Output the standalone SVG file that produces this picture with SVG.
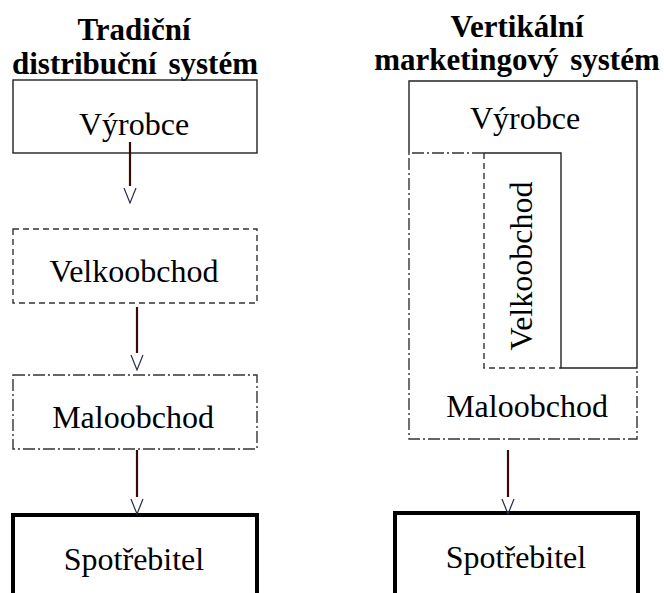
<svg xmlns="http://www.w3.org/2000/svg" width="664" height="593" viewBox="0 0 664 593">
<style>
.t{font-family:'Liberation Serif','DejaVu Serif',serif;font-size:32px;fill:#000;text-anchor:middle}
.h{font-family:'Liberation Serif','DejaVu Serif',serif;font-size:31px;font-weight:bold;fill:#000;text-anchor:middle}
.solid{fill:none;stroke:#222;stroke-width:1.4}
.dash{fill:none;stroke:#333;stroke-width:1.4;stroke-dasharray:6 4}
.dd{fill:none;stroke:#333;stroke-width:1.4;stroke-dasharray:12 3 2 3}
.thick{fill:none;stroke:#000;stroke-width:4}
.ln{stroke:#3a0a0a;stroke-width:2.2;fill:none}
</style>
<defs>
<marker id="v" markerUnits="userSpaceOnUse" markerWidth="24" markerHeight="24" viewBox="-2 -8 24 16" refX="0" refY="0" orient="auto">
<path d="M2,-6 L17,0 L2,6" fill="none" stroke="#2a2a4a" stroke-width="1.2"/>
</marker>
</defs>
<rect width="664" height="593" fill="#fff"/>
<g id="titles">
<text class="h" x="134" y="40">Tradiční</text>
<text class="h" x="135" y="74" word-spacing="4">distribuční systém</text>
<text class="h" x="517" y="37">Vertikální</text>
<text class="h" x="517" y="70" word-spacing="4">marketingový systém</text>
</g>
<g id="left-vyrobce">
<rect class="solid" x="13" y="80" width="244" height="73"/>
<text class="t" x="134" y="135">Výrobce</text>
</g>
<g id="left-velkoobchod">
<rect class="dash" x="13" y="229" width="244" height="74"/>
<text class="t" x="134" y="282">Velkoobchod</text>
</g>
<g id="left-maloobchod">
<rect class="dd" x="13" y="375" width="244" height="74"/>
<text class="t" x="133" y="428">Maloobchod</text>
</g>
<g id="left-spotrebitel">
<rect class="thick" x="13" y="515" width="244" height="100"/>
<text class="t" x="134" y="570">Spotřebitel</text>
</g>
<g id="right-maloobchod">
<path class="dd" d="M484,153 L409,153 L409,439 L637,439 L637,368"/>
<text class="t" x="527" y="417">Maloobchod</text>
</g>
<g id="right-velkoobchod">
<path class="dash" d="M484,153 L484,368 L561,368"/>
<text class="t" transform="translate(532,266) rotate(-90)" x="0" y="0">Velkoobchod</text>
</g>
<g id="right-vyrobce">
<path class="solid" d="M409,153 L409,81 L637,81 L637,368 L561,368 L561,153 L484,153"/>
<text class="t" x="525" y="129">Výrobce</text>
</g>
<g id="right-spotrebitel">
<rect class="thick" x="395" y="513" width="243" height="100"/>
<text class="t" x="516" y="568">Spotřebitel</text>
</g>
<g id="connectors">
<line class="ln" x1="130" y1="142" x2="130" y2="186" marker-end="url(#v)"/>
<line class="ln" x1="137" y1="307" x2="137" y2="353" marker-end="url(#v)"/>
<line class="ln" x1="137" y1="450" x2="137" y2="497" marker-end="url(#v)"/>
<line class="ln" x1="508" y1="450" x2="508" y2="497" marker-end="url(#v)"/>
</g>
</svg>
